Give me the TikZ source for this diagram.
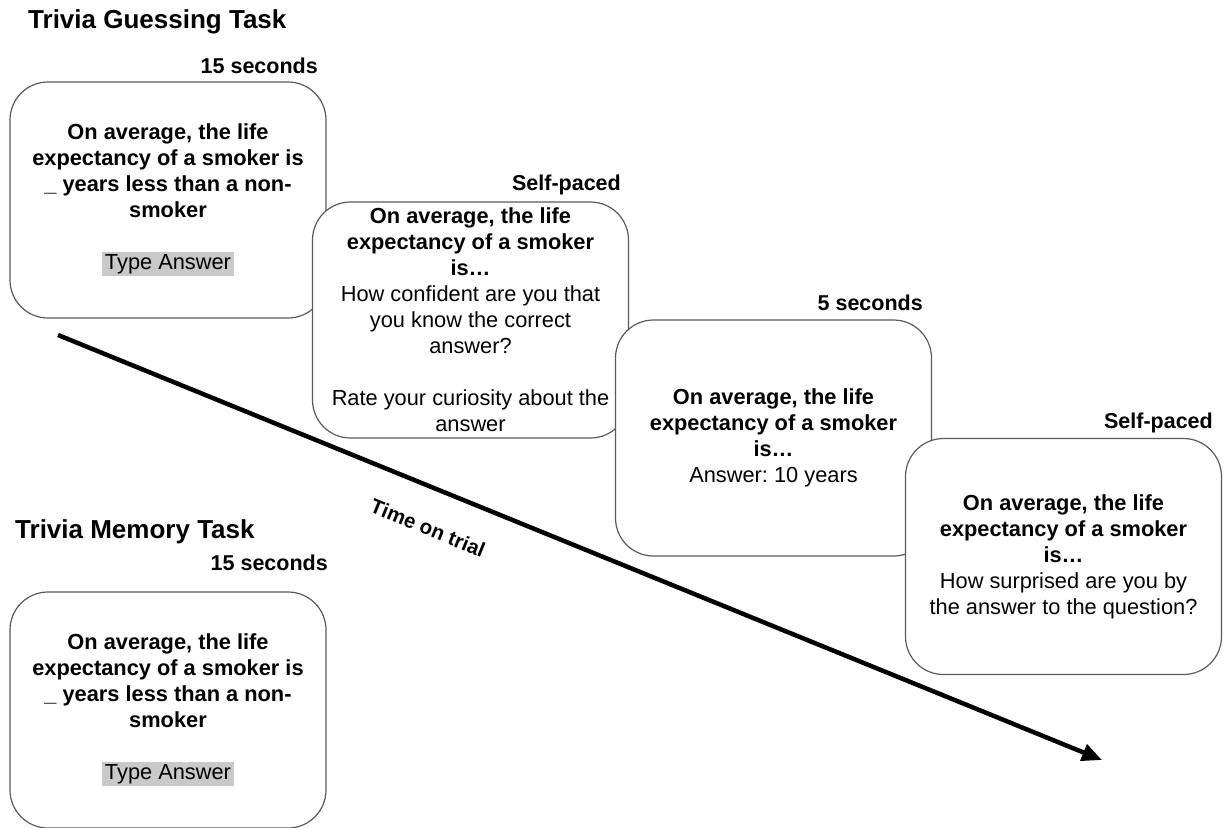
\documentclass[tikz,border=0pt]{standalone}
\usepackage{fontspec}
\setmainfont{Liberation Sans}
\usetikzlibrary{arrows.meta}
\frenchspacing
\definecolor{framegrey}{HTML}{5A5A5A}
\definecolor{typegrey}{HTML}{C9C9C9}
\newcommand{\typeans}{{\setlength{\fboxsep}{2.5pt}\colorbox{typegrey}{Type Answer}}}
\tikzset{
  screen/.style={draw=framegrey, line width=1.2pt, fill=white, rounded corners=38pt,
    minimum width=316pt, minimum height=236pt, inner sep=0pt, align=center,
    font=\fontsize{21.8}{26}\selectfont},
  timelabel/.style={inner sep=0pt, anchor=east, font=\fontsize{21.5}{26}\selectfont\bfseries},
  tasktitle/.style={inner sep=0pt, anchor=west, font=\fontsize{26}{30}\selectfont\bfseries},
  timearrow/.style={line width=4.5pt, -{Triangle[length=20pt,width=17pt]}}
}
\begin{document}
\begin{tikzpicture}[x=1pt,y=-1pt]
\useasboundingbox (0,0) rectangle (1225,827);
\fill[white] (0,0) rectangle (1225,827);

\coordinate (arrstart) at (58,335);
\coordinate (arrend) at (1102,760);
\draw[timearrow] (arrstart) -- (arrend);
\node[inner sep=0pt, rotate=-22.2, font=\fontsize{20.5}{24}\selectfont\bfseries] (tot) at (428,528) {Time on trial};

\node[tasktitle] (t1) at (28,22) {Trivia Guessing Task};
\node[tasktitle] (t2) at (15,532) {Trivia Memory Task};

\node[screen] (b1) at (168,200) {\textbf{On average, the life}\\\textbf{expectancy of a smoker is}\\\textbf{\_ years less than a non-}\\\textbf{smoker}\\[26pt]\typeans};
\node[timelabel] (l1) at (318,66) {15 seconds};

\node[screen] (b2) at (470.5,320) {\textbf{On average, the life}\\\textbf{expectancy of a smoker}\\\textbf{is…}\\How confident are you that\\you know the correct\\answer?\\[26pt]Rate your curiosity about the\\answer};
\node[timelabel] (l2) at (621,185) {Self-paced};

\node[screen] (b3) at (773.5,438) {\textbf{On average, the life}\\\textbf{expectancy of a smoker}\\\textbf{is…}\\Answer: 10 years};
\node[timelabel] (l3) at (923,303) {5 seconds};

\node[screen] (b4) at (1063.5,556.5) {\textbf{On average, the life}\\\textbf{expectancy of a smoker}\\\textbf{is…}\\How surprised are you by\\the answer to the question?};
\node[timelabel] (l4) at (1213,423) {Self-paced};

\node[screen] (b5) at (168,710) {\textbf{On average, the life}\\\textbf{expectancy of a smoker is}\\\textbf{\_ years less than a non-}\\\textbf{smoker}\\[26pt]\typeans};
\node[timelabel] (l5) at (328,563) {15 seconds};
\end{tikzpicture}
\end{document}
